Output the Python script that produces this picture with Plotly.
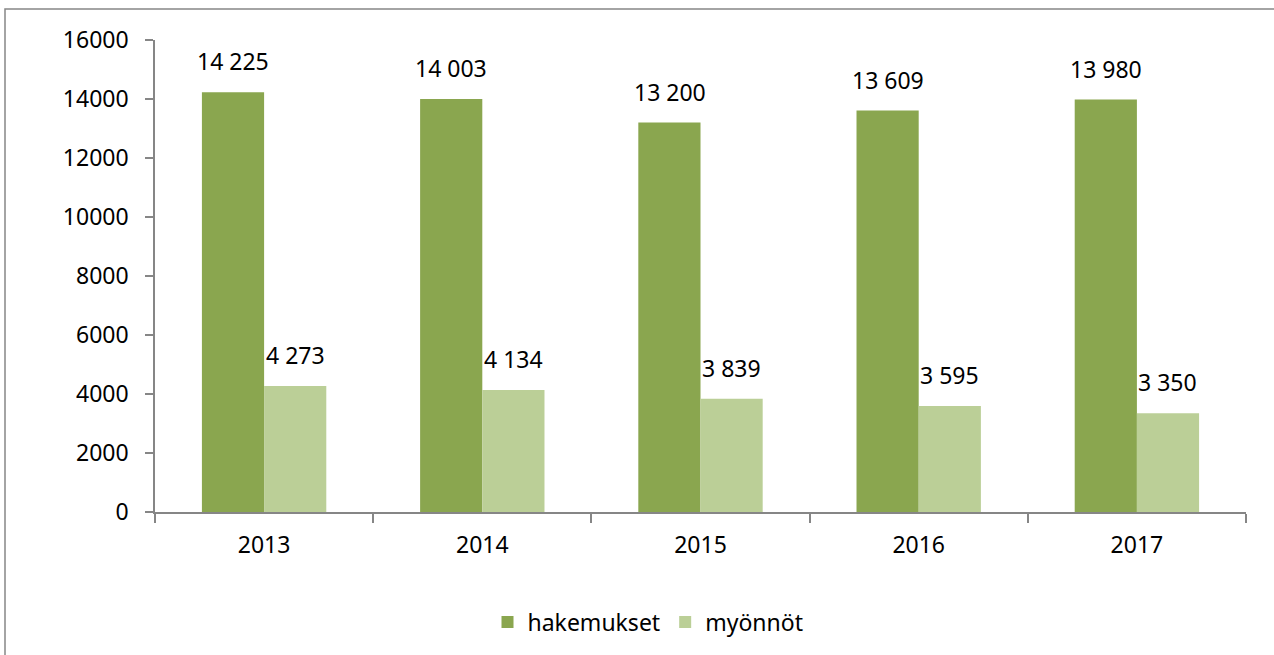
import plotly.graph_objects as go

years = ["2013", "2014", "2015", "2016", "2017"]
hakemukset = [14225, 14003, 13200, 13609, 13980]
myonnot = [4273, 4134, 3839, 3595, 3350]
y_ticks = [0, 2000, 4000, 6000, 8000, 10000, 12000, 14000, 16000]

def fi(v):
    return f"{v:,}".replace(",", " ")

DARK = "#8AA64F"
LIGHT = "#BBCF97"
AXIS = "#868686"
FONT = "Noto Sans"
FS = 23

fig = go.Figure()
fig.add_trace(go.Bar(name="hakemukset", x=years, y=hakemukset, marker_color=DARK,
                     marker_line_width=0))
fig.add_trace(go.Bar(name="myönnöt", x=years, y=myonnot, marker_color=LIGHT,
                     marker_line_width=0))

# value labels via annotations (x given as category index)
for i, yr in enumerate(years):
    fig.add_annotation(x=i, y=hakemukset[i], text=fi(hakemukset[i]), xref="x", yref="y",
                       xshift=-31, yshift=13, yanchor="bottom", showarrow=False,
                       font=dict(family=FONT, size=FS, color="black"))
    fig.add_annotation(x=i, y=myonnot[i], text=fi(myonnot[i]), xref="x", yref="y",
                       xshift=31, yshift=13, yanchor="bottom", showarrow=False,
                       font=dict(family=FONT, size=FS, color="black"))

# body margin is removed by post_script, so figure pixels == page pixels
L, R, T, B = 155, 28, 40, 143
W, H = 1274, 655
pw = W - L - R
ph = H - T - B

fig.add_shape(type="rect", xref="paper", yref="paper",
              x0=(5 - L) / pw, x1=1.2, y0=-0.6, y1=(H - B - 9) / ph,
              line=dict(color=AXIS, width=1.5), fillcolor="rgba(0,0,0,0)", layer="above")

fig.update_layout(
    width=W, height=H,
    margin=dict(l=L, r=R, t=T, b=B, autoexpand=False),
    paper_bgcolor="white", plot_bgcolor="white",
    barmode="group", bargap=0.43, bargroupgap=0,
    font=dict(family=FONT, size=FS, color="black"),
    showlegend=True,
    legend=dict(orientation="h", x=(648 - L) / pw, xanchor="center",
                y=(H - B - 622) / ph, yanchor="middle",
                font=dict(family=FONT, size=FS, color="black"),
                itemwidth=30, traceorder="normal"),
    xaxis=dict(type="category", range=[-0.5, len(years) - 0.5], showline=True,
               linecolor=AXIS, linewidth=1.5, ticks="outside",
               tickson="boundaries", ticklen=9, tickcolor=AXIS, tickwidth=1.5,
               showgrid=False, ticklabelstandoff=12, tickangle=0, automargin=False,
               tickfont=dict(family=FONT, size=FS, color="black")),
    yaxis=dict(range=[0, 16000], tickvals=y_ticks, ticktext=[str(v) for v in y_ticks],
               showline=True, linecolor=AXIS, linewidth=1.5, ticks="outside",
               ticklen=8, tickcolor=AXIS, tickwidth=1.5, showgrid=False,
               zeroline=False, ticklabelstandoff=12, automargin=False,
               tickfont=dict(family=FONT, size=FS, color="black")),
)

fig.write_html("out.html",
               config={"displayModeBar": False},
               post_script="document.body.style.margin='0';document.body.style.overflow='hidden';")
